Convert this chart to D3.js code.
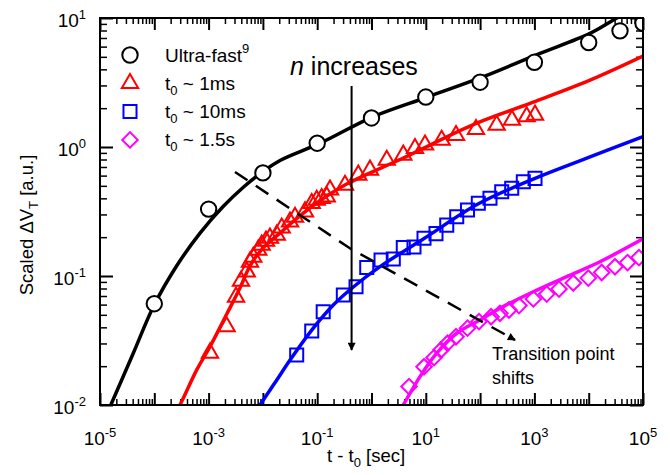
<!DOCTYPE html>
<html>
<head>
<meta charset="utf-8">
<script src="https://cdn.jsdelivr.net/npm/d3@7"></script>
<style>
body { margin: 0; background: #fff; }
svg text { font-family: "Liberation Sans", Arial, sans-serif; fill: #000; }
</style>
</head>
<body>
<div id="chart"></div>
<script>
// values: [t - t0 (sec), scaled dVT (a.u.)]
var ultraFast = [[1e-4,0.061],[1e-3,0.33],[1e-2,0.63],[0.1,1.07],[1,1.68],[10,2.44],
                 [100,3.18],[1000,4.54],[1e4,6.46],[3.77e4,7.95],[1e5,9.1]]
var t0_1ms = [[1.06e-3,0.0253],[2.15e-3,0.0405],[3.2e-3,0.0687],[3.95e-3,0.0914],[5.04e-3,0.108],
              [5.78e-3,0.1285],[6.65e-3,0.140],[8.2e-3,0.159],[9.5e-3,0.174],[0.0114,0.187],
              [0.0135,0.197],[0.018,0.208],[0.0222,0.236],[0.0316,0.263],[0.039,0.286],
              [0.0596,0.315],[0.0793,0.366],[0.098,0.388],[0.121,0.40],[0.150,0.412],
              [0.172,0.465],[0.325,0.507],[0.571,0.607],[0.938,0.664],[1.91,0.792],
              [3.85,0.867],[6.32,0.977],[9.67,1.04],[19.6,1.13],[36,1.23],[84,1.37],
              [202,1.48],[386,1.62],[721,1.72],[1026,1.77]]
var t0_10ms = [[0.0419,0.0244],[0.0793,0.0375],[0.129,0.0528],[0.303,0.0713],[0.519,0.0826],
               [0.817,0.1164],[1.50,0.133],[2.52,0.1356],[3.85,0.166],[6.06,0.168],[9.27,0.196],
               [15.4,0.213],[24.3,0.248],[37.1,0.288],[58.6,0.325],[92.7,0.366],[152,0.40],
               [250,0.45],[382,0.479],[625,0.538],[1026,0.571]]
var t0_1p5s = [[4.91,0.0139],[9.27,0.0198],[14.2,0.0233],[19.0,0.0267],[25.1,0.0301],[36.0,0.0338],
               [58.6,0.0394],[95.5,0.0443],[159,0.0483],[232,0.0514],[340,0.0545],[520,0.059],
               [955,0.0664],[1686,0.0724],[2838,0.0792],[5200,0.0883],[9840,0.0964],
               [17340,0.1065],[30500,0.118],[51900,0.127],[84300,0.139]]

// fitted curves
var fitUltra = [[1.32e-5,0.0084],[4.1e-5,0.0252],[9.6e-5,0.0578],[2.59e-4,0.120],[6.95e-4,0.215],
                [1.87e-3,0.347],[4.36e-3,0.488],[1.02e-2,0.649],[2.07e-2,0.787],[0.113,1.07],
                [1.08,1.72],[10.4,2.43],[115,3.51],[1057,5.16],[10570,7.60],[28400,9.64],[1e5,13.1]]
var fit1ms = [[2.32e-4,0.0084],[2.97e-4,0.0100],[6.04e-4,0.0187],[1.06e-3,0.0283],[2.16e-3,0.0507],
              [3.78e-3,0.0807],[5.78e-3,0.1197],[8.13e-3,0.148],[0.0124,0.180],[0.0207,0.215],
              [0.039,0.272],[0.098,0.368],[0.349,0.516],[3.85,0.822],
              [86.5,1.53],[830,2.18],[10570,3.30],[1e5,5.07]]
var fit10ms = [[6.97e-3,0.0084],[8.85e-3,0.0100],[0.018,0.0156],[0.0316,0.0223],[0.0793,0.0381],
               [0.198,0.0596],[0.462,0.0822],[1.50,0.1197],[9.27,0.195],[91.4,0.361],[1026,0.571],
               [10570,0.837],[1e5,1.205]]
var fit1p5s = [[3.0,0.0084],[3.85,0.0100],[7.82,0.0166],[15.9,0.0252],[37.1,0.0360],[99.5,0.0456],
               [232,0.0562],[955,0.0755],[3936,0.0989],[16140,0.129],[1e5,0.194]]

var xTicks = [1e-5,1e-3,1e-1,1e1,1e3,1e5]
var xTickExp = ["-5","-3","-1","1","3","5"]
var yTicks = [1e-2,1e-1,1e0,1e1]
var yTickExp = ["-2","-1","0","1"]

// annotations in data units
var nArrow = [[0.43,2.97],[0.43,0.0267]]
var shiftArrow = [[3.06e-3,0.64],[0.40,0.164],[440,0.0319]]

var W = 670, H = 475
var margin = {top: 18, right: 27, bottom: 70, left: 100}
var width = W - margin.left - margin.right
var height = H - margin.top - margin.bottom

var svg = d3.select("#chart").append("svg")
    .attr("width", W)
    .attr("height", H)

var defs = svg.append("defs")
defs.append("clipPath").attr("id", "clip")
    .append("rect")
    .attr("x", margin.left).attr("y", margin.top)
    .attr("width", width).attr("height", height)

defs.append("marker")
    .attr("id", "head")
    .attr("viewBox", "0 0 10 10")
    .attr("refX", 9).attr("refY", 5)
    .attr("markerUnits", "userSpaceOnUse")
    .attr("markerWidth", 13).attr("markerHeight", 8)
    .attr("orient", "auto")
    .append("path")
    .attr("d", "M0,0L10,5L0,10z")
    .attr("fill", "#000")

var x = d3.scaleLog().domain([1e-5, 1e5]).range([margin.left, margin.left + width])
var y = d3.scaleLog().domain([1e-2, 1e1]).range([margin.top + height, margin.top])

// minor ticks 2..9 in each decade
var xMinor = [], yMinor = []
for (var e = -5; e < 5; e++) for (var k = 2; k < 10; k++) xMinor.push(k * Math.pow(10, e))
for (var e = -2; e < 1; e++) for (var k = 2; k < 10; k++) yMinor.push(k * Math.pow(10, e))
var xMajor = d3.range(-5, 6).map(function(e){ return Math.pow(10, e) })

function addAxis(axis, tx, ty, vals, size, sw) {
    svg.append("g")
        .attr("transform", "translate(" + tx + "," + ty + ")")
        .call(axis.tickValues(vals).tickSize(-size).tickFormat(""))
        .call(function(g){ g.select(".domain").remove() })
        .selectAll("line").attr("stroke", "#000").attr("stroke-width", sw)
}
var bottom = margin.top + height, right = margin.left + width
addAxis(d3.axisBottom(x), 0, bottom, xMinor, 6, 1.5)
addAxis(d3.axisBottom(x), 0, bottom, xMajor, 12, 2)
addAxis(d3.axisTop(x), 0, margin.top, xMinor, 6, 1.5)
addAxis(d3.axisTop(x), 0, margin.top, xMajor, 12, 2)
addAxis(d3.axisLeft(y), margin.left, 0, yMinor, 7, 1.5)
addAxis(d3.axisLeft(y), margin.left, 0, yTicks, 13, 2)
addAxis(d3.axisRight(y), right, 0, yMinor, 7, 1.5)
addAxis(d3.axisRight(y), right, 0, yTicks, 13, 2)

// tick labels with superscript exponents
xTicks.forEach(function(v, i) {
    var t = svg.append("text").attr("x", x(v)).attr("y", bottom + 40)
        .attr("text-anchor", "middle").style("font-size", "19px")
    t.append("tspan").text("10")
    t.append("tspan").attr("dy", -8).style("font-size", "13px").text(xTickExp[i])
})
yTicks.forEach(function(v, i) {
    var t = svg.append("text").attr("x", 86).attr("y", y(v) + 9)
        .attr("text-anchor", "end").style("font-size", "19px")
    t.append("tspan").text("10")
    t.append("tspan").attr("dy", -8).style("font-size", "13px").text(yTickExp[i])
})

// axis titles
var xt = svg.append("text").attr("x", 366).attr("y", 462)
    .attr("text-anchor", "middle").style("font-size", "18.5px")
xt.append("tspan").text("t - t")
xt.append("tspan").attr("dy", 5).style("font-size", "13px").text("0")
xt.append("tspan").attr("dy", -5).text(" [sec]")

var yt = svg.append("text").attr("transform", "translate(33,225) rotate(-90)")
    .attr("text-anchor", "middle").style("font-size", "18.5px")
yt.append("tspan").text("Scaled \u0394V")
yt.append("tspan").attr("dy", 5).style("font-size", "13px").text("T")
yt.append("tspan").attr("dy", -5).text(" [a.u.]")

var plot = svg.append("g").attr("clip-path", "url(#clip)")

var line = d3.line()
    .x(function(d){ return x(d[0]) })
    .y(function(d){ return y(d[1]) })
    .curve(d3.curveCatmullRom.alpha(0.5))

var series = [
    {fit: fitUltra, pts: ultraFast, color: "#000000", sym: "circle", label: "Ultra-fast", sup: "9"},
    {fit: fit1ms, pts: t0_1ms, color: "#ff0000", sym: "triangle", label: " ~ 1ms"},
    {fit: fit10ms, pts: t0_10ms, color: "#0000ff", sym: "square", label: " ~ 10ms"},
    {fit: fit1p5s, pts: t0_1p5s, color: "#ff00ff", sym: "diamond", label: " ~ 1.5s"}
]

function symPath(s) {
    if (s == "circle") return d3.symbol(d3.symbolCircle, 186)()
    if (s == "triangle") return d3.symbol(d3.symbolTriangle, 115)()
    return d3.symbol(d3.symbolSquare, s == "square" ? 170 : 120)()
}
function symTransform(s, px, py) {
    return "translate(" + px + "," + py + ")" + (s == "diamond" ? " rotate(45)" : "")
}

// fitted lines
series.forEach(function(s) {
    plot.append("path").datum(s.fit)
        .attr("d", line)
        .attr("fill", "none")
        .attr("stroke", s.color)
        .attr("stroke-width", 3.5)
})

// annotation arrows
svg.append("path").datum(shiftArrow)
    .attr("d", d3.line().x(function(d){ return x(d[0]) }).y(function(d){ return y(d[1]) }))
    .attr("fill", "none").attr("stroke", "#000").attr("stroke-width", 2.5)
    .attr("stroke-dasharray", "15,10")
    .attr("marker-end", "url(#head)")
svg.append("path").datum(nArrow)
    .attr("d", d3.line().x(function(d){ return x(d[0]) }).y(function(d){ return y(d[1]) }))
    .attr("fill", "none").attr("stroke", "#000").attr("stroke-width", 2)
    .attr("marker-end", "url(#head)")

// markers
series.forEach(function(s) {
    plot.selectAll(null).data(s.pts).enter().append("path")
        .attr("d", symPath(s.sym))
        .attr("transform", function(d){ return symTransform(s.sym, x(d[0]), y(d[1])) })
        .attr("fill", s.sym == "circle" ? "#fff" : "none")
        .attr("stroke", s.color)
        .attr("stroke-width", 2)
})

// frame
svg.append("rect")
    .attr("x", margin.left).attr("y", margin.top)
    .attr("width", width).attr("height", height)
    .attr("fill", "none").attr("stroke", "#000").attr("stroke-width", 2)

// legend
series.forEach(function(s, i) {
    var ly = 55 + i * 28.3
    svg.append("path")
        .attr("d", symPath(s.sym))
        .attr("transform", symTransform(s.sym, 130, ly))
        .attr("fill", "none").attr("stroke", s.color).attr("stroke-width", 2)
    var t = svg.append("text").attr("x", 165).attr("y", ly + 6.5).style("font-size", "19px")
    if (s.sup) {
        t.append("tspan").text(s.label)
        t.append("tspan").attr("dy", -9).style("font-size", "13px").text(s.sup)
    } else {
        t.append("tspan").text("t")
        t.append("tspan").attr("dy", 5).style("font-size", "13px").text("0")
        t.append("tspan").attr("dy", -5).text(s.label)
    }
})

// annotation text
var nt = svg.append("text").attr("x", 290).attr("y", 75).style("font-size", "25px")
nt.append("tspan").style("font-style", "italic").text("n")
nt.append("tspan").text(" increases")
svg.append("text").attr("x", 492).attr("y", 360).style("font-size", "18px").text("Transition point")
svg.append("text").attr("x", 492).attr("y", 384).style("font-size", "18px").text("shifts")
</script>
</body>
</html>
